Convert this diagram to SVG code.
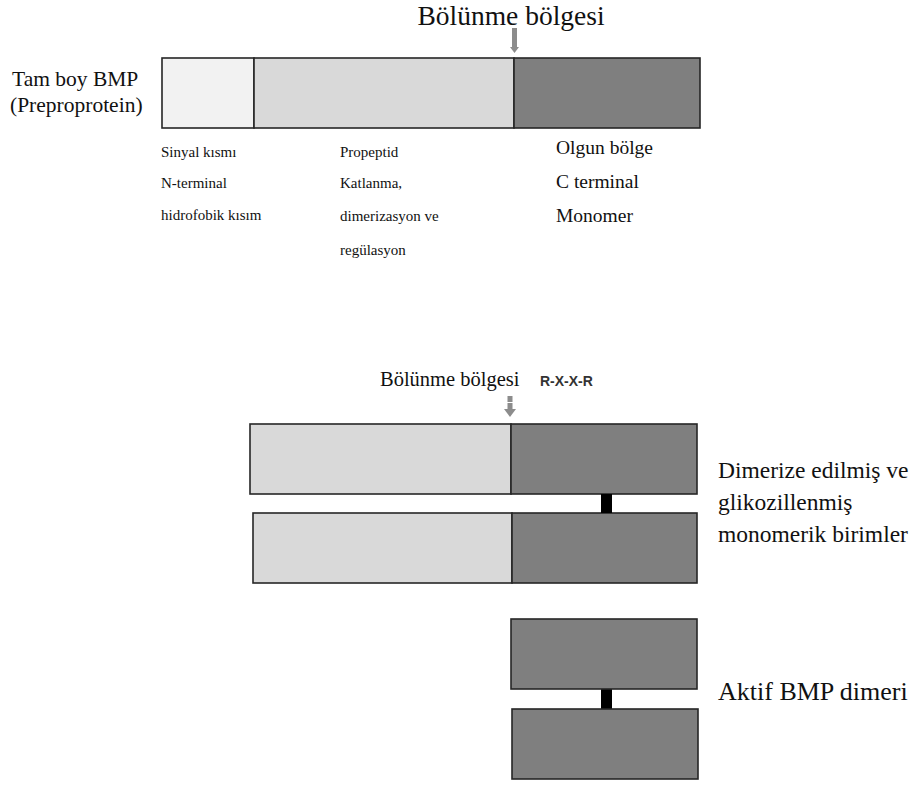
<svg xmlns="http://www.w3.org/2000/svg" width="920" height="787" viewBox="0 0 920 787">
<style>
.t{font-family:"Liberation Serif","Times New Roman",serif;fill:#111}
.s{font-size:15px}
.m{font-size:19.5px}
.l{font-size:21.5px}
.b{stroke:#262626;stroke-width:1.6}
.p1{fill:#f2f2f2}
.p2{fill:#d9d9d9}
.p3{fill:#7f7f7f}
.arr{fill:#8c8c8c}
</style>
<rect width="920" height="787" fill="#fff"/>
<g id="title1"><text class="t" x="511" y="25" font-size="27.5" text-anchor="middle">Bölünme bölgesi</text></g>
<g id="arrow1" class="arr"><rect x="512" y="28" width="5" height="19"/><polygon points="510,47 519,47 514.5,53"/></g>
<g id="label-full"><text class="t l" x="12" y="86">Tam boy BMP</text><text class="t l" x="10" y="112">(Preproprotein)</text></g>
<g id="bar-top">
<rect id="signal" class="b p1" x="162" y="58" width="92" height="70"/>
<rect id="propeptide" class="b p2" x="254" y="58" width="260" height="70"/>
<rect id="mature" class="b p3" x="514" y="58" width="186" height="70"/>
</g>
<g id="txt-signal"><text class="t s" x="161" y="157">Sinyal kısmı</text><text class="t s" x="161" y="188">N-terminal</text><text class="t s" x="161" y="220">hidrofobik kısım</text></g>
<g id="txt-pro"><text class="t s" x="340" y="157">Propeptid</text><text class="t s" x="340" y="188">Katlanma,</text><text class="t s" x="340" y="221">dimerizasyon ve</text><text class="t s" x="340" y="255">regülasyon</text></g>
<g id="txt-mature"><text class="t m" x="556" y="154">Olgun bölge</text><text class="t m" x="556" y="188">C terminal</text><text class="t m" x="556" y="222">Monomer</text></g>
<g id="title2"><text class="t" x="380" y="386" font-size="20.5">Bölünme bölgesi</text><text x="540" y="386" font-family="Liberation Sans,Arial,sans-serif" font-weight="bold" font-size="14" fill="#333">R-X-X-R</text></g>
<g id="arrow2" class="arr"><rect x="507.5" y="396" width="5" height="6"/><rect x="507.5" y="403" width="5" height="6"/><polygon points="504,409 516,409 510,417"/></g>
<g id="dimer-pro">
<rect class="b p2" x="250" y="424" width="261" height="70"/>
<rect class="b p3" x="511" y="424" width="186" height="70"/>
<rect class="b p2" x="253" y="513" width="259" height="70"/>
<rect class="b p3" x="512" y="513" width="185" height="70"/>
</g>
<g id="connectors">
<rect x="601" y="494" width="11" height="19" fill="#000"/>
<rect x="601" y="689" width="11" height="20" fill="#000"/>
</g>
<g id="label-dimer"><text class="t" font-size="23.5" x="718" y="478">Dimerize edilmiş ve</text><text class="t" font-size="23.5" x="718" y="510">glikozillenmiş</text><text class="t" font-size="23.5" x="718" y="542">monomerik birimler</text></g>
<g id="active-dimer">
<rect class="b p3" x="511" y="619" width="186" height="70"/>
<rect class="b p3" x="512" y="709" width="186" height="70"/>
</g>
<g id="label-active"><text class="t" font-size="26" x="718" y="700">Aktif BMP dimeri</text></g>
</svg>
